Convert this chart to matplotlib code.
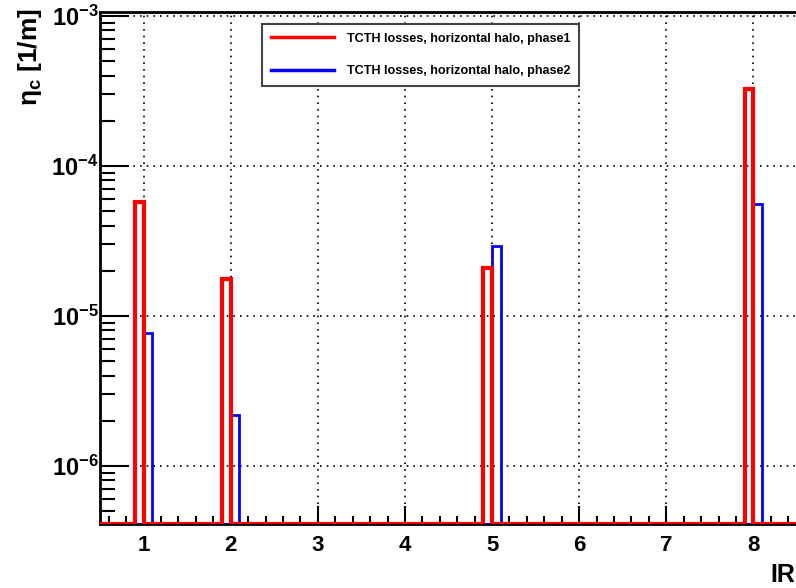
import matplotlib
matplotlib.use('Agg')
import matplotlib.pyplot as plt
import numpy as np
from matplotlib.ticker import FixedLocator, FuncFormatter, LogLocator, NullFormatter

plt.rcParams['font.family'] = ['Liberation Sans', 'DejaVu Sans']
plt.rcParams['font.weight'] = 'bold'
plt.rcParams['mathtext.fontset'] = 'custom'
plt.rcParams['mathtext.rm'] = 'Liberation Sans:bold'
plt.rcParams['mathtext.it'] = 'Liberation Sans:bold'
plt.rcParams['mathtext.bf'] = 'Liberation Sans:bold'

# data
irs = [1, 2, 5, 8]
phase1 = [5.75e-5, 1.77e-5, 2.09e-5, 3.26e-4]
phase2 = [7.7e-6, 2.19e-6, 2.93e-5, 5.58e-5]
ir_ticks = [1, 2, 3, 4, 5, 6, 7, 8]
labels = ['TCTH losses, horizontal halo, phase1', 'TCTH losses, horizontal halo, phase2']

ymin, ymax = 4.1e-7, 1.06e-3
xmin, xmax = 0.5, 8.5

# histogram with 0.1 wide bins, empty bins sit on the floor
edges = np.linspace(xmin, xmax, 81)
centers = 0.5 * (edges[:-1] + edges[1:])
h1 = np.full(80, ymin)
h2 = np.full(80, ymin)
for ir, v1, v2 in zip(irs, phase1, phase2):
    h1[np.argmin(np.abs(centers - (ir - 0.05)))] = v1
    h2[np.argmin(np.abs(centers - (ir + 0.05)))] = v2

fig = plt.figure(figsize=(7.96, 5.88), dpi=100)
ax = fig.add_axes([100/796, 1 - 524/588, 697/796, (524 - 12)/588])

ax.stairs(h2, edges, baseline=ymin, color='blue', lw=2, label=labels[1], zorder=3)
ax.stairs(h1, edges, baseline=ymin, color='red', lw=3, label=labels[0], zorder=4)

ax.set_yscale('log')
ax.set_xlim(xmin, xmax)
ax.set_ylim(ymin, ymax)

ax.xaxis.set_major_locator(FixedLocator(ir_ticks))
ax.xaxis.set_minor_locator(FixedLocator(np.arange(0.6, 8.5, 0.2)))
ax.yaxis.set_major_locator(LogLocator(base=10, numticks=10))
ax.yaxis.set_minor_locator(LogLocator(base=10, subs=np.arange(2, 10), numticks=20))
ax.yaxis.set_minor_formatter(NullFormatter())
ax.yaxis.set_major_formatter(FuncFormatter(lambda v, p: r'$10^{%d}$' % round(np.log10(v))))

ax.tick_params(axis='x', which='major', direction='in', length=13, width=1.5, labelsize=16, pad=8)
ax.tick_params(axis='x', which='minor', direction='in', length=6, width=1.5)
ax.tick_params(axis='y', which='major', direction='in', length=21, width=1.5, labelsize=17, pad=1)
ax.tick_params(axis='y', which='minor', direction='in', length=11, width=1.5)
ax.tick_params(top=False, right=False, which='both')

ax.grid(True, which='major', color='black', linestyle=(0, (1, 3)), lw=1.2)
for s in ax.spines.values():
    s.set_linewidth(2)

fig.text(30/796, 1 - 8/588, r'$\eta_{c}$ [1/m]', fontsize=19, fontweight='bold',
         rotation=90, ha='center', va='top')
fig.text(783/796, 1 - 575/588, 'IR', fontsize=18, fontweight='bold', ha='center', va='center')

leg = ax.legend(handles=ax.get_legend_handles_labels()[0][::-1], labels=labels,
                loc='upper left', bbox_to_anchor=(262/796, 1 - 24/588), bbox_transform=fig.transFigure,
                borderaxespad=0, fancybox=False, edgecolor='#444444', framealpha=1,
                handlelength=5.0, handletextpad=1.0, labelspacing=1.6, borderpad=0.7,
                prop={'weight': 'bold', 'size': 9.1})
leg.get_frame().set_linewidth(1.5)
for l in leg.get_lines():
    l.set_linewidth(2.5)

fig.savefig('out.png', dpi=100)
